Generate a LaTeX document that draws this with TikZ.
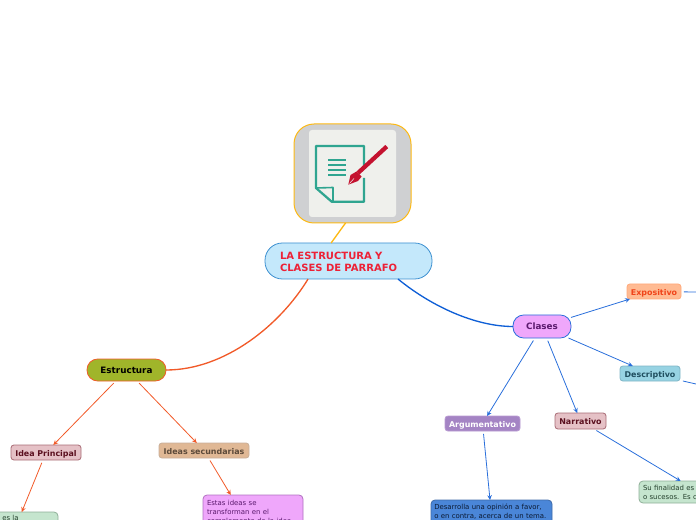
\documentclass[tikz,border=0pt]{standalone}
\usepackage{fontspec}
\setmainfont{DejaVu Sans}
\usetikzlibrary{arrows.meta}
\definecolor{cOrange}{HTML}{FDB913}
\definecolor{cRed}{HTML}{F15A29}
\definecolor{cBlue}{HTML}{0F5FD6}
\definecolor{cBlueL}{HTML}{2A6FDB}
\definecolor{cTeal}{HTML}{2FA590}
\definecolor{cPen}{HTML}{C4122F}
\definecolor{cTitleFill}{HTML}{C4E8FB}
\definecolor{cTitleDraw}{HTML}{3B8FD0}
\definecolor{cTitleText}{HTML}{ED2136}
\definecolor{cOlive}{HTML}{A0B52A}
\definecolor{cPink}{HTML}{EFA7FB}
\definecolor{cPurpleT}{HTML}{5B1A6E}
\definecolor{cExpoD}{HTML}{FFA97A}
\definecolor{cExpoF}{HTML}{FFBB93}
\definecolor{cExpoT}{HTML}{F0441A}
\definecolor{cDescD}{HTML}{7FB5C6}
\definecolor{cDescF}{HTML}{97D3E3}
\definecolor{cDescT}{HTML}{1F4E5F}
\definecolor{cArguD}{HTML}{B89AD2}
\definecolor{cArguF}{HTML}{A484C4}
\definecolor{cRoseD}{HTML}{A86B75}
\definecolor{cRoseF}{HTML}{E5C1C6}
\definecolor{cRoseT}{HTML}{5A0F1E}
\definecolor{cTanD}{HTML}{C9AE98}
\definecolor{cTanF}{HTML}{E0B895}
\definecolor{cTanT}{HTML}{5C4A3A}
\definecolor{cGreenD}{HTML}{8FAF98}
\definecolor{cGreenF}{HTML}{C5E5CE}
\definecolor{cGreenT}{HTML}{24402C}
\definecolor{cPinkD}{HTML}{B070C0}
\definecolor{cBlueBD}{HTML}{3D6AA8}
\definecolor{cBlueBF}{HTML}{4A86D8}
\definecolor{cBlueBT}{HTML}{0B1A33}
\definecolor{cPanel}{HTML}{EFF0EC}
\definecolor{cGrey}{HTML}{CFD0D2}
\tikzset{
  box/.style={draw, rectangle, rounded corners=#1, inner sep=0pt, outer sep=0pt, line width=0.6pt, align=center},
  box/.default=2.2pt,
  lab/.style={font=\fontsize{6.6pt}{8pt}\selectfont\bfseries},
  slab/.style={font=\fontsize{5.95pt}{8pt}\selectfont\bfseries, text height=6.5pt, text depth=1.2pt},
  para/.style={font=\fontsize{5.2pt}{6.75pt}\selectfont, align=left},
  curve/.style={line width=1pt},
  link/.style={line width=0.6pt, shorten <=2.2pt, -{Stealth[length=3.6pt,width=3.4pt]}},
  redl/.style={link, draw=cRed},
  bluel/.style={link, draw=cBlueL},
  pos/.style n args={4}{minimum width=#3*0.75pt, minimum height=#4*0.75pt, at={(#1,#2)}},
}
\begin{document}
\begin{tikzpicture}[x=0.75pt,y=-0.75pt]
\useasboundingbox (0,0) rectangle (696,520);
\clip (0,0) rectangle (696,520);
% nodes
\node[box=15pt, pos={352.5}{173.5}{117}{99}, draw=cOrange, fill=cGrey, line width=0.75pt] (img) {};
\node[box=13pt, pos={348.5}{261}{167}{36}, draw=cTitleDraw, fill=cTitleFill,
  text=cTitleText, font=\fontsize{7.5pt}{9pt}\selectfont\bfseries, align=left, text width=137*0.75pt] (title) {\rule{0pt}{7pt}LA ESTRUCTURA Y\\CLASES DE PARRAFO};
\node[box=8pt, lab, pos={126.5}{370}{79}{22}, draw=cRed, fill=cOlive, text=black] (estr) {Estructura};
\node[box=8pt, lab, pos={542}{326.5}{58}{23}, draw=cBlueL, fill=cPink, text=cPurpleT] (clases) {Clases};
\node[box, slab, pos={654}{291.5}{54}{15}, draw=cExpoD, fill=cExpoF, text=cExpoT] (expo) {Expositivo};
\node[box, slab, pos={650}{373.5}{60}{15}, draw=cDescD, fill=cDescF, text=cDescT] (desc) {Descriptivo};
\node[box, slab, pos={482.5}{423.5}{75}{15}, draw=cArguD, fill=cArguF, text=white] (argu) {Argumentativo};
\node[box, slab, pos={580.5}{421}{51}{16}, draw=cRoseD, fill=cRoseF, text=cRoseT] (narr) {Narrativo};
\node[box, slab, pos={46}{452.5}{70}{15}, draw=cRoseD, fill=cRoseF, text=cRoseT] (idea) {Idea Principal};
\node[box, slab, pos={204}{450.5}{90}{15}, draw=cTanD, fill=cTanF, text=cTanT] (sec) {Ideas secundarias};
\node[box=3pt, pos={14}{531}{88}{38}, draw=cGreenD, fill=cGreenF] (greenl) {};
\node[para, anchor=base west, inner sep=0pt, text=cGreenT] (greenltxt) at (2,520.5) {es la};
\node[box=3pt, para, pos={253}{532}{100}{74}, draw=cPinkD, fill=cPink, text=cPurpleT, text width=92*0.75pt] (estas) {\rule{0pt}{7pt}Estas ideas se\\transforman en el\\complemento de la idea\\\phantom{x}\\\phantom{x}\\\phantom{x}\\\phantom{x}\\\phantom{x}};
\node[box=3pt, para, pos={491.5}{515}{121}{30}, draw=cBlueBD, fill=cBlueBF, text=cBlueBT, text width=114.5*0.75pt] (blue) {\rule{0pt}{5.5pt}Desarrolla una opinión a favor,\\o en contra, acerca de un tema.\\\phantom{x}};
\node[box=3pt, para, pos={699}{492}{120}{22}, draw=cGreenD, fill=cGreenF, text=cGreenT, text width=112*0.75pt] (greenr) {Su finalidad es\\o sucesos. Es c};
\coordinate (expoout) at (696,292);
\coordinate (descout) at (696,384);
% image
\fill[fill=cPanel, rounded corners=2.2pt] (309,130) rectangle (396,217);
\draw[cTeal, line width=1.7pt, line join=round] (364,167) -- (364,146) -- (316,146) -- (316,188) -- (331.7,201.7) -- (364,201.7) -- (364,178);
\draw[cTeal, line width=1.2pt, line join=round] (316,188) -- (333,187.5) -- (333,201.7);
\foreach \yy in {160,165,170,175} \draw[cTeal, line width=0.8pt] (328,\yy) -- (345.5,\yy);
\draw[cPen, line width=3.2pt] (386.8,146.5) -- (358,173);
\fill[cPen] (348.3,184.7) -- (350.5,175) -- (356.5,171.5) -- (361.7,176.5) -- (358,181) -- cycle;
\draw[cPanel, line width=0.4pt] (349.5,183.5) -- (354,178.5);
% connectors
\draw[curve, draw=cOrange] (img.-98.6) -- (title.134);
\draw[curve, draw=cRed] (title.204) .. controls +(-28,46) and +(59,0) .. (estr.east);
\draw[curve, draw=cBlue] (title.-20) .. controls +(33,27) and +(-38,0) .. (clases.west);
\draw[redl] (estr) -- (idea);
\draw[redl] (estr) -- (sec);
\draw[redl] (idea) -- (greenl);
\draw[redl] (sec) -- (estas);
\draw[bluel, shorten <=0pt] (clases) -- (expo);
\draw[bluel, shorten <=0pt] (clases) -- (desc);
\draw[bluel] (clases) -- (argu);
\draw[bluel] (clases) -- (narr);
\draw[bluel] (argu) -- (blue);
\draw[bluel] (narr) -- (greenr);
\draw[line width=0.6pt, draw=cBlueL, shorten <=2.2pt] (expo) -- (expoout);
\draw[line width=0.6pt, draw=cBlueL, shorten <=2.2pt] (desc) -- (descout);
\end{tikzpicture}
\end{document}
